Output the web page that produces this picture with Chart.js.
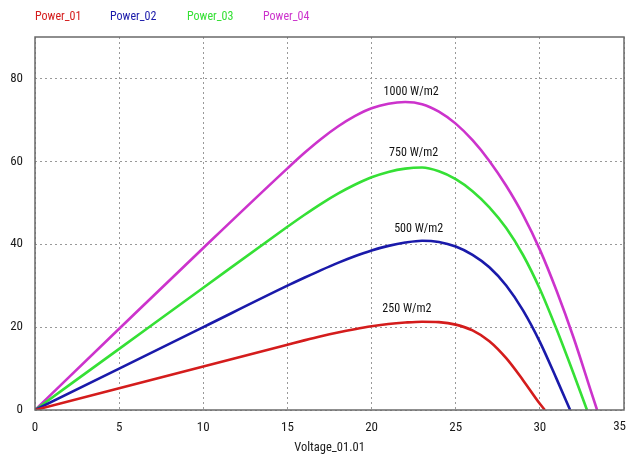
<!DOCTYPE html>
<html>
<head>
<meta charset="utf-8">
<script src="https://cdn.jsdelivr.net/npm/chart.js@4.4.1/dist/chart.umd.min.js"></script>
<style>
  html, body { margin: 0; padding: 0; background: #fff; }
  #wrap { width: 629px; height: 459px; }
</style>
</head>
<body>
<div id="wrap"><canvas id="pv" width="629" height="459"></canvas></div>
<script>
// series names + irradiance labels
const seriesNames = ['Power_01', 'Power_02', 'Power_03', 'Power_04'];
const curveLabels = ['250 W/m2', '500 W/m2', '750 W/m2', '1000 W/m2'];

// voltage / power readings for each curve
const volt01 = [0, 5, 10, 15, 16, 17, 18, 19, 20, 21, 22, 23, 24, 25, 26, 27, 28, 29, 30, 30.3];
const power01 = [0, 5.25, 10.5, 15.75, 16.8, 17.8, 18.7, 19.5, 20.2, 20.75, 21.1, 21.3, 21.2, 20.6, 19.2, 16.6, 12.5, 7.2, 1.5, 0];

const volt02 = [0, 5, 10, 15, 16, 17, 18, 19, 20, 21, 22, 23, 24, 25, 26, 27, 28, 29, 30, 31, 31.8];
const power02 = [0, 10, 20, 30, 31.9, 33.75, 35.5, 37.1, 38.5, 39.6, 40.4, 40.85, 40.55, 39.45, 37.45, 34.45, 30.05, 24.05, 16.45, 7.45, 0];

const volt03 = [0, 5, 10, 15, 16, 17, 18, 19, 20, 21, 22, 23, 24, 25, 26, 27, 28, 29, 30, 31, 32, 32.8];
const power03 = [0, 14.75, 29.5, 44.2, 47.05, 49.75, 52.2, 54.35, 56.15, 57.45, 58.25, 58.5, 57.6, 55.7, 52.8, 48.9, 43.9, 37.4, 29.2, 19.4, 8.8, 0];

const volt04 = [0, 5, 10, 15, 16, 17, 18, 19, 20, 21, 22, 23, 24, 25, 26, 27, 28, 29, 30, 31, 32, 33, 33.4];
const power04 = [0, 19.6, 39.1, 58.3, 62.0, 65.4, 68.4, 70.9, 72.8, 73.9, 74.3, 73.8, 72.0, 69.1, 65.1, 60.1, 54.1, 47.1, 38.7, 28.7, 17.5, 5.0, 0];

const xTicks = [0, 5, 10, 15, 20, 25, 30, 35];
const yTicks = [0, 20, 40, 60, 80];

const colors = ['#d41c1c', '#1a1aaa', '#35e035', '#cc33cc'];
// where each irradiance label sits (voltage, power)
const labelAt = [[22.1, 24.4], [22.8, 43.7], [22.5, 62.1], [22.35, 76.8]];

const allVolts = [volt01, volt02, volt03, volt04];
const allPower = [power01, power02, power03, power04];

const FONT = '"Roboto Condensed", "Liberation Sans", Arial';

const datasets = seriesNames.map((name, i) => ({
  label: name,
  data: allVolts[i].map((v, k) => ({ x: v, y: allPower[i][k] })),
  borderColor: colors[i],
  borderWidth: 2.6,
  pointRadius: 0,
  fill: false,
  cubicInterpolationMode: 'monotone'
}));

// frame, legend text, curve labels and the last x tick
const decorations = {
  id: 'decorations',
  afterDatasetsDraw(chart) {
    const { ctx, chartArea: a, scales } = chart;
    ctx.save();
    ctx.strokeStyle = '#6a6a6a';
    ctx.lineWidth = 1.5;
    ctx.strokeRect(a.left, a.top, a.right - a.left, a.bottom - a.top);

    ctx.font = '12px ' + FONT;
    ctx.textBaseline = 'middle';
    ctx.textAlign = 'left';
    const legendX = [35, 110, 187, 263];
    seriesNames.forEach((n, i) => {
      ctx.fillStyle = colors[i];
      ctx.fillText(n, legendX[i], 17);
    });

    ctx.fillStyle = '#111';
    ctx.textAlign = 'center';
    curveLabels.forEach((t, i) => {
      ctx.fillText(t, scales.x.getPixelForValue(labelAt[i][0]), scales.y.getPixelForValue(labelAt[i][1]));
    });

    // "35" sits just inside the right edge
    ctx.font = '13px ' + FONT;
    ctx.fillStyle = '#1a1a1a';
    ctx.textAlign = 'right';
    ctx.fillText(String(xTicks[xTicks.length - 1]), 626, a.bottom + 17);
    ctx.restore();
  }
};

new Chart(document.getElementById('pv'), {
  type: 'line',
  data: { datasets: datasets },
  options: {
    responsive: false,
    animation: false,
    layout: { padding: { top: 37, right: 5, left: 0, bottom: 0 } },
    plugins: {
      legend: { display: false },
      tooltip: { enabled: false }
    },
    scales: {
      x: {
        type: 'linear',
        min: 0,
        max: 35,
        afterBuildTicks: (s) => { s.ticks = xTicks.map(v => ({ value: v })); },
        afterFit: (s) => { s.height = 49; s.paddingRight = 0; },
        ticks: {
          color: '#1a1a1a', font: { family: FONT, size: 13 }, padding: 10, maxRotation: 0,
          callback: (v) => (v === 35 ? '' : v)
        },
        grid: { color: '#999', drawTicks: false },
        border: { display: false, dash: [2, 3] },
        title: { display: true, text: 'Voltage_01.01', color: '#1a1a1a', font: { family: FONT, size: 12.5 }, padding: { top: 0, bottom: 4 } }
      },
      y: {
        type: 'linear',
        min: 0,
        max: 90,
        afterBuildTicks: (s) => { s.ticks = yTicks.map(v => ({ value: v })); },
        afterFit: (s) => { s.width = 35; },
        ticks: { color: '#1a1a1a', font: { family: FONT, size: 13 }, padding: 12 },
        grid: { color: '#999', drawTicks: false },
        border: { display: false, dash: [2, 3] }
      }
    }
  },
  plugins: [decorations]
});
</script>
</body>
</html>
